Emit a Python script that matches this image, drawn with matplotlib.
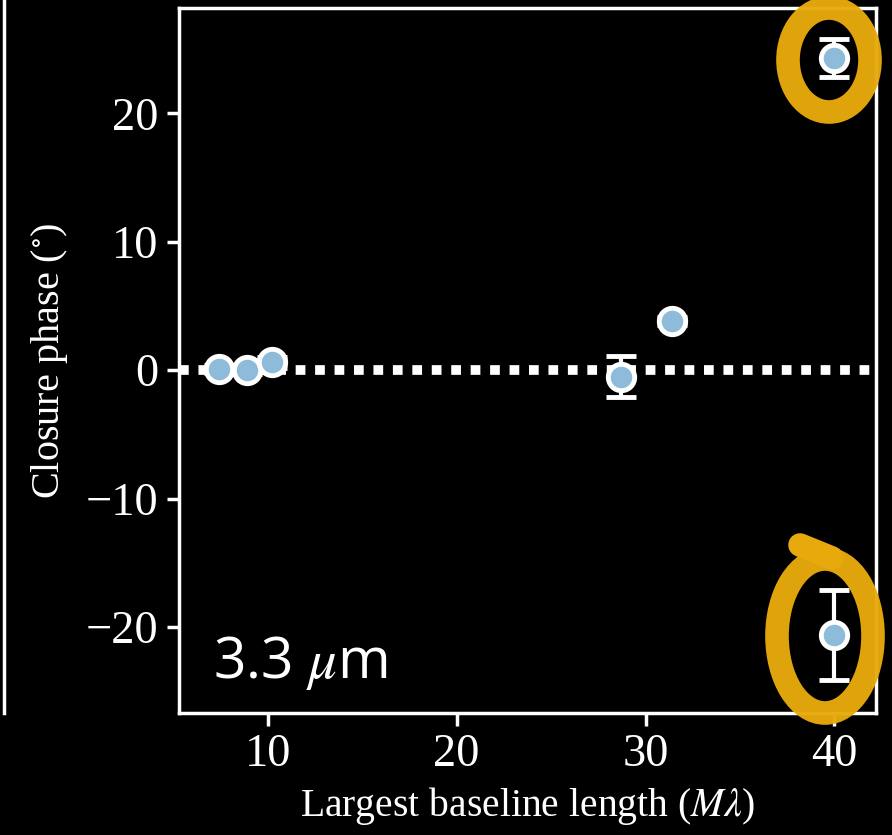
import matplotlib
matplotlib.use("Agg")
import matplotlib.pyplot as plt
from matplotlib.patches import Ellipse
from matplotlib.lines import Line2D

plt.rcParams["mathtext.fontset"] = "stix"

# Closure phase versus largest baseline length
baseline = [7.4, 8.9, 10.2, 28.7, 31.4, 40.0, 40.0]
closure_phase = [0.1, 0.0, 0.6, -0.5, 3.8, 24.3, -20.6]
phase_err = [0.3, 0.3, 0.4, 1.6, 0.3, 1.5, 3.5]

x_ticks = [10, 20, 30, 40]
y_ticks = [-20, -10, 0, 10, 20]

W, H = 892, 835
fig = plt.figure(figsize=(W / 100, H / 100), dpi=100, facecolor="black")
ax = fig.add_axes([179 / W, 1 - 713 / H, (876 - 179) / W, (713 - 8) / H])
ax.set_facecolor("black")

serif = ["Liberation Serif", "DejaVu Serif"]

ax.axhline(0, color="white", lw=7, ls=(0, (1, 1)), zorder=1)

ax.errorbar(baseline, closure_phase, yerr=phase_err, fmt="o", ms=19,
            mfc="#8dbbd9", mec="white", mew=3.5, ecolor="white",
            elinewidth=3, capsize=11, capthick=3, zorder=3)

ax.set_xlim(5.3, 42.2)
ax.set_ylim(-26.7, 28.2)
ax.set_xticks(x_ticks)
ax.set_yticks(y_ticks)
ax.set_xticklabels([str(t) for t in x_ticks], family=serif)
ax.set_yticklabels(["\u2212" + str(-t) if t < 0 else str(t) for t in y_ticks],
                   family=serif)

for s in ax.spines.values():
    s.set_color("white")
    s.set_linewidth(2.5)
ax.tick_params(colors="white", labelsize=33.5, length=9, width=2.5,
               direction="out", pad=6)

ax.set_xlabel(r"Largest baseline length ($M\lambda$)", color="white",
              fontsize=28.5, family=serif, labelpad=6)
ax.set_ylabel(r"Closure phase ($^{\circ}$)", color="white",
              fontsize=29, family=serif, labelpad=11)

# wavelength label
fig.text(213 / W, 1 - 678 / H, r"3.3 $\mu$m", color="white", fontsize=41,
         family=["Open Sans", "DejaVu Sans"], ha="left", va="baseline")

# edge of the neighbouring panel
fig.add_artist(Line2D([4 / W, 4 / W], [1 - 713 / H, 1.0], color="white",
                      lw=2.5, transform=fig.transFigure))

# highlight rings around the longest-baseline points
ring = "#e8a90c"
fig.add_artist(Ellipse((829 / W, 1 - 60 / H), 82 / W, 104 / H, angle=0,
                       fill=False, ec=ring, lw=17, alpha=0.97,
                       transform=fig.transFigure, zorder=10))
fig.add_artist(Ellipse((825 / W, 1 - 636 / H), 96 / W, 154 / H, angle=0,
                       fill=False, ec=ring, lw=17, alpha=0.97,
                       transform=fig.transFigure, zorder=10))
fig.add_artist(Line2D([800 / W, 832 / W], [1 - 545 / H, 1 - 558 / H],
                      color=ring, lw=17, solid_capstyle="round",
                      transform=fig.transFigure, zorder=10))

fig.savefig("out.png", dpi=100, facecolor="black")
